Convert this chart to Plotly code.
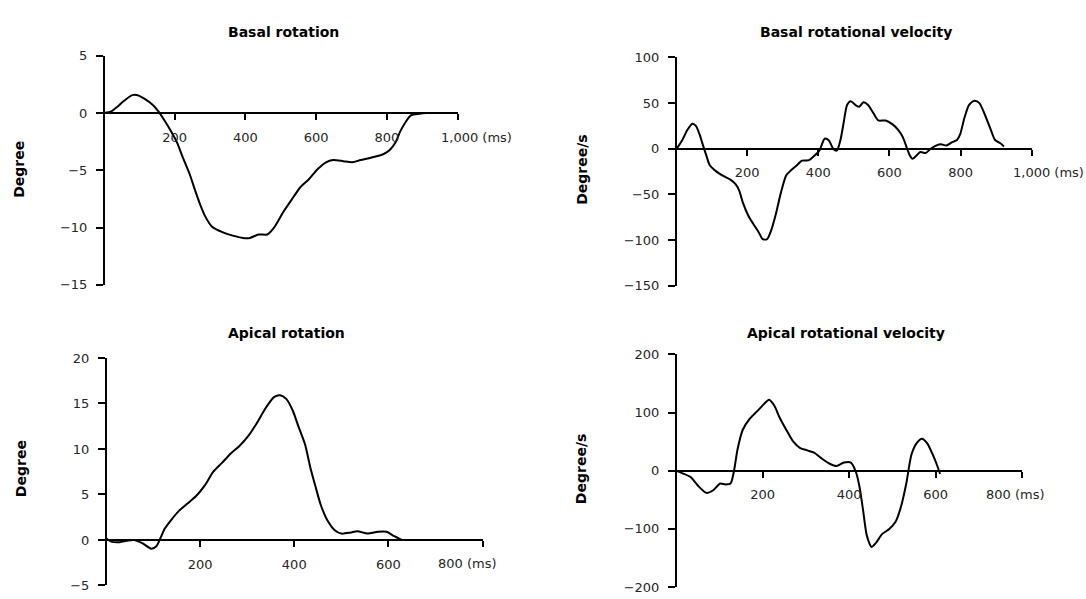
import plotly.graph_objects as go

W, H = 1086, 599

# ---------------- data ----------------
basal_rot_t = [0, 21, 36, 56, 80, 95, 114, 139, 154, 168, 188, 207, 222, 242, 256, 271, 286, 305, 335, 364,
               393, 413, 437, 462, 481, 506, 530, 555, 579, 604, 628, 648, 677, 702, 726, 755, 790, 809,
               824, 838, 853, 868, 883, 912]
basal_rot_v = [0, 0.14, 0.5, 1.05, 1.56, 1.56, 1.25, 0.68, 0.14, -0.5, -1.5, -2.6, -3.8, -5.3, -6.6, -7.9,
               -9.0, -9.9, -10.4, -10.7, -10.9, -10.9, -10.6, -10.6, -10.0, -8.7, -7.6, -6.5, -5.8, -4.9,
               -4.3, -4.1, -4.2, -4.3, -4.1, -3.9, -3.6, -3.2, -2.6, -1.6, -0.8, -0.2, -0.1, 0]

basal_vel_t = [2, 17, 31, 46, 56, 66, 75, 85, 95, 114, 134, 154, 168, 178, 188, 203, 217, 232, 244, 256,
               266, 281, 295, 310, 325, 340, 354, 374, 388, 403, 418, 430, 442, 452, 462, 472, 481, 491,
               506, 515, 527, 540, 555, 569, 589, 608, 624, 638, 648, 657, 665, 677, 687, 702, 716, 731,
               745, 760, 775, 790, 799, 811, 824, 839, 853, 868, 883, 897, 912, 922]
basal_vel_v = [0, 9, 20, 27.5, 25, 16, 5, -7, -18, -25, -30, -34, -39, -46, -59, -73, -82, -91, -99, -99,
               -91, -71, -48, -29, -23, -18, -13, -12.5, -8, -2, 11, 9, 0, -2, 9, 30, 48, 52,
               47.5, 46, 51, 48, 39, 31, 31, 27, 21, 12.5, 2, -7, -11, -7, -3.5, -4.6, 0, 3.5,
               5, 3.5, 7, 9.6, 16, 34, 48, 52.5, 50, 37.5, 23, 9.6, 6, 2.5]

apical_rot_t = [0, 11, 29, 44, 59, 77, 96, 107, 114, 125, 140, 155, 173, 191, 210, 228, 247, 265, 283,
                302, 320, 338, 357, 370, 383, 397, 408, 423, 434, 445, 456, 471, 486, 500, 519, 534,
                556, 578, 596, 611, 629, 637]
apical_rot_v = [0.18, -0.18, -0.25, -0.1, 0, -0.35, -0.96, -0.7, 0, 1.25, 2.3, 3.2, 4.0, 4.8, 6.0, 7.5,
                8.5, 9.5, 10.3, 11.4, 12.8, 14.4, 15.7, 15.9, 15.5, 14.2, 12.6, 10.5, 8.0, 5.9, 3.9,
                2.1, 1.07, 0.7, 0.8, 0.96, 0.7, 0.9, 0.9, 0.46, 0, 0]

apical_vel_t = [0, 14, 34, 50, 70, 86, 102, 114, 126, 134, 142, 154, 170, 187, 203, 215, 227, 239, 255,
                271, 287, 303, 319, 335, 355, 371, 388, 404, 416, 424, 432, 441, 452, 462, 476, 492,
                508, 520, 532, 544, 556, 568, 580, 593, 605, 610]
apical_vel_v = [0, -4, -11, -25, -38, -33.5, -22, -23.5, -22, 0, 36, 70, 89, 102, 114.5, 122, 112, 92,
                70, 50, 39, 35, 31, 22, 12, 8, 14, 14, -3, -28, -67, -112, -131, -124, -109, -100.5,
                -86.6, -61, -22, 28, 47.5, 55, 47.5, 28, 5.6, -5.6]

titles = ["Basal rotation", "Basal rotational velocity", "Apical rotation", "Apical rotational velocity"]
ylabels = ["Degree", "Degree/s", "Degree", "Degree/s"]

xticks_long = [200, 400, 600, 800, 1000]
xticks_short = [200, 400, 600, 800]

yt1 = [5, 0, -5, -10, -15]
yt2 = [100, 50, 0, -50, -100, -150]
yt3 = [20, 15, 10, 5, 0, -5]
yt4 = [200, 100, 0, -100, -200]


def fmt(v):
    return ("\u2212" + f"{abs(v):,}") if v < 0 else f"{v:,}"


# ---------------- layout geometry (pixels) ----------------
# (x_left, x_right, y_top, y_bottom)
panels = [
    dict(t=basal_rot_t, v=basal_rot_v, box=(104, 457.5, 50, 285), xr=[0, 1000], yr=[-15, 5], yt=yt1,
         xt=xticks_long, last="1,000 (ms)", lastshift=-19, title=(283, 26), ylab=(19, 167)),
    dict(t=basal_vel_t, v=basal_vel_v, box=(676, 1031.7, 51.7, 286), xr=[0, 1000], yr=[-150, 100], yt=yt2,
         xt=xticks_long, last="1,000 (ms)", lastshift=-21, title=(856, 26), ylab=(582, 167)),
    dict(t=apical_rot_t, v=apical_rot_v, box=(106, 482.5, 360, 593.3), xr=[0, 800], yr=[-5, 20], yt=yt3,
         xt=xticks_short, last="800 (ms)", lastshift=-47, title=(286, 334), ylab=(21, 474)),
    dict(t=apical_vel_t, v=apical_vel_v, box=(676, 1022.3, 356.3, 595), xr=[0, 800], yr=[-200, 200], yt=yt4,
         xt=xticks_short, last="800 (ms)", lastshift=-38, title=(846, 334), ylab=(581, 474)),
]

FONT = "DejaVu Sans"
TICKC = "#262626"

fig = go.Figure()
annotations = []
layout = {}

for i, p in enumerate(panels):
    n = i + 1
    xs = "" if n == 1 else str(n)
    xl, xr_, yt_, yb = p["box"]
    xdom = [xl / W, xr_ / W]
    ydom = [1 - yb / H, 1 - yt_ / H]
    y0, y1 = p["yr"]
    zero_pos = ydom[0] + (0 - y0) / (y1 - y0) * (ydom[1] - ydom[0])

    fig.add_trace(go.Scatter(x=p["t"], y=p["v"], mode="lines",
                             line=dict(color="black", width=2, shape="spline", smoothing=0.7),
                             xaxis="x" + xs, yaxis="y" + xs, showlegend=False, hoverinfo="skip"))

    ticktext = [f"{v:,}" for v in p["xt"]]
    ticktext[-1] = ""
    layout["xaxis" + xs] = dict(domain=xdom, range=p["xr"], anchor="free", position=zero_pos,
                                showline=True, linecolor="black", linewidth=2,
                                ticks="outside", ticklen=6, tickwidth=2, tickcolor="black",
                                tickvals=p["xt"], ticktext=ticktext, ticklabelstandoff=6,
                                tickfont=dict(family=FONT, size=13, color=TICKC),
                                showgrid=False, zeroline=False, fixedrange=True)
    layout["yaxis" + xs] = dict(domain=ydom, range=p["yr"], anchor="free", position=xdom[0],
                                showline=True, linecolor="black", linewidth=2,
                                ticks="outside", ticklen=7, tickwidth=2, tickcolor="black",
                                tickvals=p["yt"], ticktext=[fmt(v) for v in p["yt"]], ticklabelstandoff=6,
                                tickfont=dict(family=FONT, size=13, color=TICKC),
                                showgrid=False, zeroline=False, fixedrange=True)

    annotations.append(dict(text=p["last"], xref="x" + xs, yref="y" + xs, x=p["xr"][1], y=0,
                            xanchor="left", yanchor="middle", xshift=p["lastshift"], yshift=-24,
                            showarrow=False, font=dict(family=FONT, size=13, color=TICKC)))
    tx, ty = p["title"]
    annotations.append(dict(text="<b>" + titles[i] + "</b>", xref="paper", yref="paper",
                            x=tx / W, y=1 - ty / H, xanchor="center", yanchor="middle",
                            showarrow=False, font=dict(family=FONT, size=14, color="black")))
    lx, ly = p["ylab"]
    annotations.append(dict(text="<b>" + ylabels[i] + "</b>", xref="paper", yref="paper",
                            x=lx / W, y=1 - ly / H, xanchor="center", yanchor="middle", textangle=-90,
                            showarrow=False, font=dict(family=FONT, size=14, color="black")))

fig.update_layout(width=W, height=H, autosize=False, margin=dict(l=0, r=0, t=0, b=0),
                  paper_bgcolor="white", plot_bgcolor="white", annotations=annotations, **layout)

fig.write_html("out.html", config={"displayModeBar": False, "staticPlot": True},
               post_script="document.body.style.margin='0';document.body.style.overflow='hidden';")
